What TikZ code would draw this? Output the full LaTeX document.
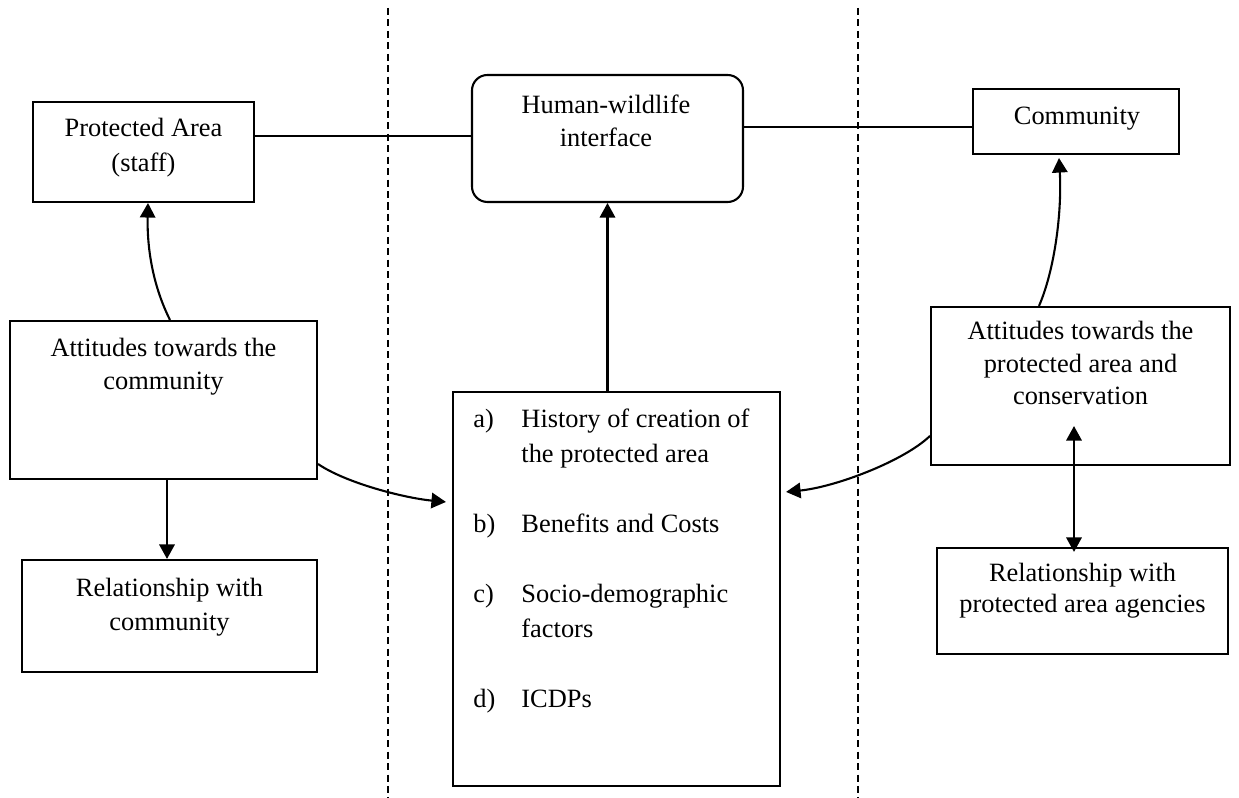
\documentclass[tikz,border=0pt]{standalone}
\usepackage{fontspec}
\setmainfont{Liberation Serif}
\usetikzlibrary{arrows.meta,calc,fit}
\begin{document}
\begin{tikzpicture}[x=0.4545pt,y=-0.4545pt,
  box/.style={draw,line width=0.95pt,inner sep=0pt},
  rbox/.style={draw,line width=0.95pt,inner sep=0pt,rounded corners=7pt},
  txt/.style={inner sep=0pt,anchor=base,font=\fontsize{12pt}{15pt}\selectfont},
  ltxt/.style={inner sep=0pt,anchor=base west,font=\fontsize{12pt}{15pt}\selectfont},
  conn/.style={line width=0.95pt},
  arr/.style={line width=0.95pt,-{Triangle[length=6.6pt,width=7pt]}},
  darr/.style={line width=0.95pt,{Triangle[length=6.6pt,width=7pt]}-{Triangle[length=6.6pt,width=7pt]}},
  divider/.style={line width=0.9pt,dash pattern=on 3.2pt off 2pt}]
\useasboundingbox (0,0) rectangle (1239,798);
\fill[white] (0,0) rectangle (1239,798);

% dividers
\draw[divider] (388,8) -- (388,798);
\draw[divider] (858,8) -- (858,798);

% boxes
\node[box,fit={(33,102) (254,202)}] (pa) {};
\node[rbox,fit={(472,75) (743,202)}] (hw) {};
\node[box,fit={(973,89) (1179,154)}] (cm) {};
\node[box,fit={(10,321) (317,479)}] (al) {};
\node[box,fit={(22,560) (317,672)}] (rc) {};
\node[box,fit={(453,392) (780,786)}] (cb) {};
\node[box,fit={(931,307) (1230,465)}] (ar) {};
\node[box,fit={(937,548) (1228,654)}] (rr) {};

% texts
\node[txt] (pa1) at (143.5,137) {Protected Area};
\node[txt] (pa2) at (143.5,172) {(staff)};
\node[txt] (hw1) at (606,114) {Human-wildlife};
\node[txt] (hw2) at (606,147) {interface};
\node[txt] (cm1) at (1077,125) {Community};
\node[txt] (al1) at (163.5,357) {Attitudes towards the};
\node[txt] (al2) at (163.5,390) {community};
\node[txt] (rc1) at (169.5,597) {Relationship with};
\node[txt] (rc2) at (169.5,631) {community};
\node[txt] (ar1) at (1080.5,340) {Attitudes towards the};
\node[txt] (ar2) at (1080.5,373) {protected area and};
\node[txt] (ar3) at (1080.5,405) {conservation};
\node[txt] (rr1) at (1082.5,582) {Relationship with};
\node[txt] (rr2) at (1082.5,613) {protected area agencies};

\node[ltxt] (la) at (473,428) {a)};
\node[ltxt] (ta1) at (521,428) {History of creation of};
\node[ltxt] (ta2) at (521,463) {the protected area};
\node[ltxt] (lb) at (473,533) {b)};
\node[ltxt] (tb1) at (521,533) {Benefits and Costs};
\node[ltxt] (lc) at (473,603) {c)};
\node[ltxt] (tc1) at (521,603) {Socio-demographic};
\node[ltxt] (tc2) at (521,638) {factors};
\node[ltxt] (ld) at (473,708) {d)};
\node[ltxt] (td1) at (521,708) {ICDPs};

% connectors
\draw[conn] ($(pa.north east)+(0,35.5)$) -- ($(hw.north west)+(0,62.5)$);
\draw[conn] ($(hw.north east)+(0,53.5)$) -- ($(cm.north west)+(0,39.5)$);
\draw[arr] (cb.north -| hw.south) -- (hw.south);
\draw[arr] ($(al.north)+(6.5,0)$) .. controls +(-18,-36) and +(-1,43) .. ($(pa.south)+(4.5,0)$);
\draw[arr] ($(al.south)+(3.5,0)$) -- ($(rc.north)+(-2.5,0)$);
\draw[arr] ($(al.south east)+(0,-16)$) .. controls +(28,19) and +(-42,-4) .. ($(cb.north west)+(-6,111)$);
\draw[arr] ($(ar.north west)+(0,130)$) .. controls +(-26,25) and +(50,-5) .. ($(cb.north east)+(5,101)$);
\draw[arr] ($(ar.north)+(-41.5,0)$) .. controls +(16,-37) and +(3,53) .. ($(cm.south)+(-17,3)$);
\draw[darr] ($(ar.south)+(-6.5,-40)$) -- ($(rr.north)+(-8.5,5)$);
\end{tikzpicture}
\end{document}
